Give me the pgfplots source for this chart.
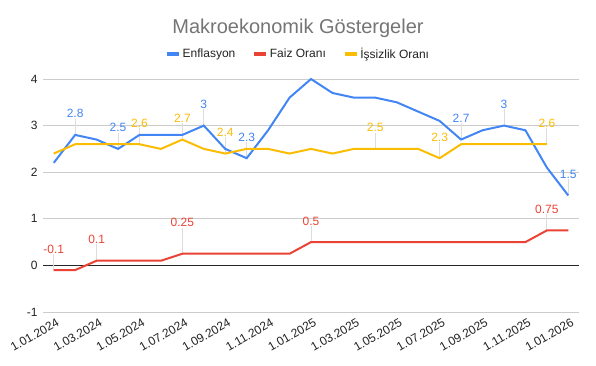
\documentclass[border=0pt]{standalone}
\usepackage{pgfplots}
\pgfplotsset{compat=1.18}
\usepackage{fontspec}
\setmainfont{Liberation Sans}
\definecolor{gblue}{HTML}{4285F4}
\definecolor{gred}{HTML}{EA4335}
\definecolor{gyellow}{HTML}{FBBC04}
\definecolor{ggrid}{HTML}{CCCCCC}
\definecolor{gtext}{HTML}{222222}
\definecolor{gtitle}{HTML}{757575}
\definecolor{glead}{HTML}{DDDDDD}
\begin{document}
\begin{tikzpicture}
\path[use as bounding box] (0,0) rectangle (596bp,366bp);
\node[anchor=base, font=\fontsize{20bp}{24bp}\selectfont, text=gtitle] at (298bp,332bp) {Makroekonomik Göstergeler};
\begin{axis}[
  at={(43bp,54bp)}, anchor=south west,
  scale only axis, width=536bp, height=233bp,
  xmin=-0.5, xmax=24.5, ymin=-1, ymax=4,
  axis line style={draw=none},
  clip=false,
  xtick={0,2,...,24},
  xticklabels={1.01.2024,1.03.2024,1.05.2024,1.07.2024,1.09.2024,1.11.2024,1.01.2025,1.03.2025,1.05.2025,1.07.2025,1.09.2025,1.11.2025,1.01.2026},
  ytick={-1,0,1,2,3,4},
  /pgf/number format/assume math mode=true,
  tick style={draw=none},
  x tick label style={rotate=30, anchor=north east, font=\fontsize{12bp}{14bp}\selectfont, text=gtext, inner sep=1bp, yshift=-5bp},
  y tick label style={font=\fontsize{12bp}{14bp}\selectfont, text=gtext, xshift=-2bp},
  legend columns=3,
  legend style={draw=none, fill=none, at={(0.476,1.107)}, anchor=center,
    font=\fontsize{12bp}{14bp}\selectfont, text=gtext,
    /tikz/every even column/.append style={column sep=15bp}},
  legend image code/.code={\draw[#1, line width=3.5bp] (0bp,0bp) -- (12bp,0bp);},
  every node near coord/.append style={anchor=base, yshift=17bp, inner sep=0pt, font=\fontsize{12bp}{14bp}\selectfont},
]
% grid lines
\addplot[draw=ggrid, line width=0.8bp, forget plot] coordinates {(-0.5,-1) (24.5,-1)};
\addplot[draw=ggrid, line width=0.8bp, forget plot] coordinates {(-0.5,1) (24.5,1)};
\addplot[draw=ggrid, line width=0.8bp, forget plot] coordinates {(-0.5,2) (24.5,2)};
\addplot[draw=ggrid, line width=0.8bp, forget plot] coordinates {(-0.5,3) (24.5,3)};
\addplot[draw=ggrid, line width=0.8bp, forget plot] coordinates {(-0.5,4) (24.5,4)};
\addplot[draw=black!85, line width=0.9bp, forget plot] coordinates {(-0.5,0) (24.5,0)};

% leader lines
\addplot[draw=none, forget plot, error bars/.cd, y dir=plus, y fixed=0.35, error mark=none,
  error bar style={draw=glead, line width=0.8bp}]
  coordinates {(1,2.8) (3,2.5) (7,3) (9,2.3) (19,2.7) (21,3) (24,1.5)
               (4,2.6) (6,2.7) (8,2.4) (15,2.5) (18,2.3) (23,2.6)
               (0,-0.1) (2,0.1) (12,0.5) (23,0.75)};
\addplot[draw=none, forget plot, error bars/.cd, y dir=plus, y fixed=0.55, error mark=none,
  error bar style={draw=glead, line width=0.8bp}]
  coordinates {(6,0.25)};

% series
\addplot[color=gblue, line width=2bp, mark=none] coordinates {
(0,2.2) (1,2.8) (2,2.7) (3,2.5) (4,2.8) (5,2.8) (6,2.8) (7,3.0) (8,2.5) (9,2.3)
(10,2.9) (11,3.6) (12,4.0) (13,3.7) (14,3.6) (15,3.6) (16,3.5) (17,3.3) (18,3.1)
(19,2.7) (20,2.9) (21,3.0) (22,2.9) (23,2.1) (24,1.5)};
\addlegendentry{Enflasyon}
\addplot[color=gred, line width=2bp, mark=none] coordinates {
(0,-0.1) (1,-0.1) (2,0.1) (3,0.1) (4,0.1) (5,0.1) (6,0.25) (7,0.25) (8,0.25) (9,0.25)
(10,0.25) (11,0.25) (12,0.5) (13,0.5) (14,0.5) (15,0.5) (16,0.5) (17,0.5) (18,0.5)
(19,0.5) (20,0.5) (21,0.5) (22,0.5) (23,0.75) (24,0.75)};
\addlegendentry{Faiz Oranı}
\addplot[color=gyellow, line width=2bp, mark=none] coordinates {
(0,2.4) (1,2.6) (2,2.6) (3,2.6) (4,2.6) (5,2.5) (6,2.7) (7,2.5) (8,2.4) (9,2.5)
(10,2.5) (11,2.4) (12,2.5) (13,2.4) (14,2.5) (15,2.5) (16,2.5) (17,2.5) (18,2.3)
(19,2.6) (20,2.6) (21,2.6) (22,2.6) (23,2.6)};
\addlegendentry{İşsizlik Oranı}

% data labels
\addplot[draw=none, forget plot, nodes near coords, point meta=explicit symbolic,
  every node near coord/.append style={text=gblue}]
  coordinates {(1,2.8) [2.8] (3,2.5) [2.5] (7,3) [3] (9,2.3) [2.3] (19,2.7) [2.7] (21,3) [3] (24,1.5) [1.5]};
\addplot[draw=none, forget plot, nodes near coords, point meta=explicit symbolic,
  every node near coord/.append style={text=gyellow}]
  coordinates {(4,2.6) [2.6] (6,2.7) [2.7] (8,2.4) [2.4] (15,2.5) [2.5] (18,2.3) [2.3] (23,2.6) [2.6]};
\addplot[draw=none, forget plot, nodes near coords, point meta=explicit symbolic,
  every node near coord/.append style={text=gred}]
  coordinates {(0,-0.1) [-0.1] (2,0.1) [0.1] (12,0.5) [0.5] (23,0.75) [0.75]};
\addplot[draw=none, forget plot, nodes near coords, point meta=explicit symbolic,
  every node near coord/.append style={text=gred, yshift=10bp}]
  coordinates {(6,0.25) [0.25]};
\end{axis}
\end{tikzpicture}
\end{document}
